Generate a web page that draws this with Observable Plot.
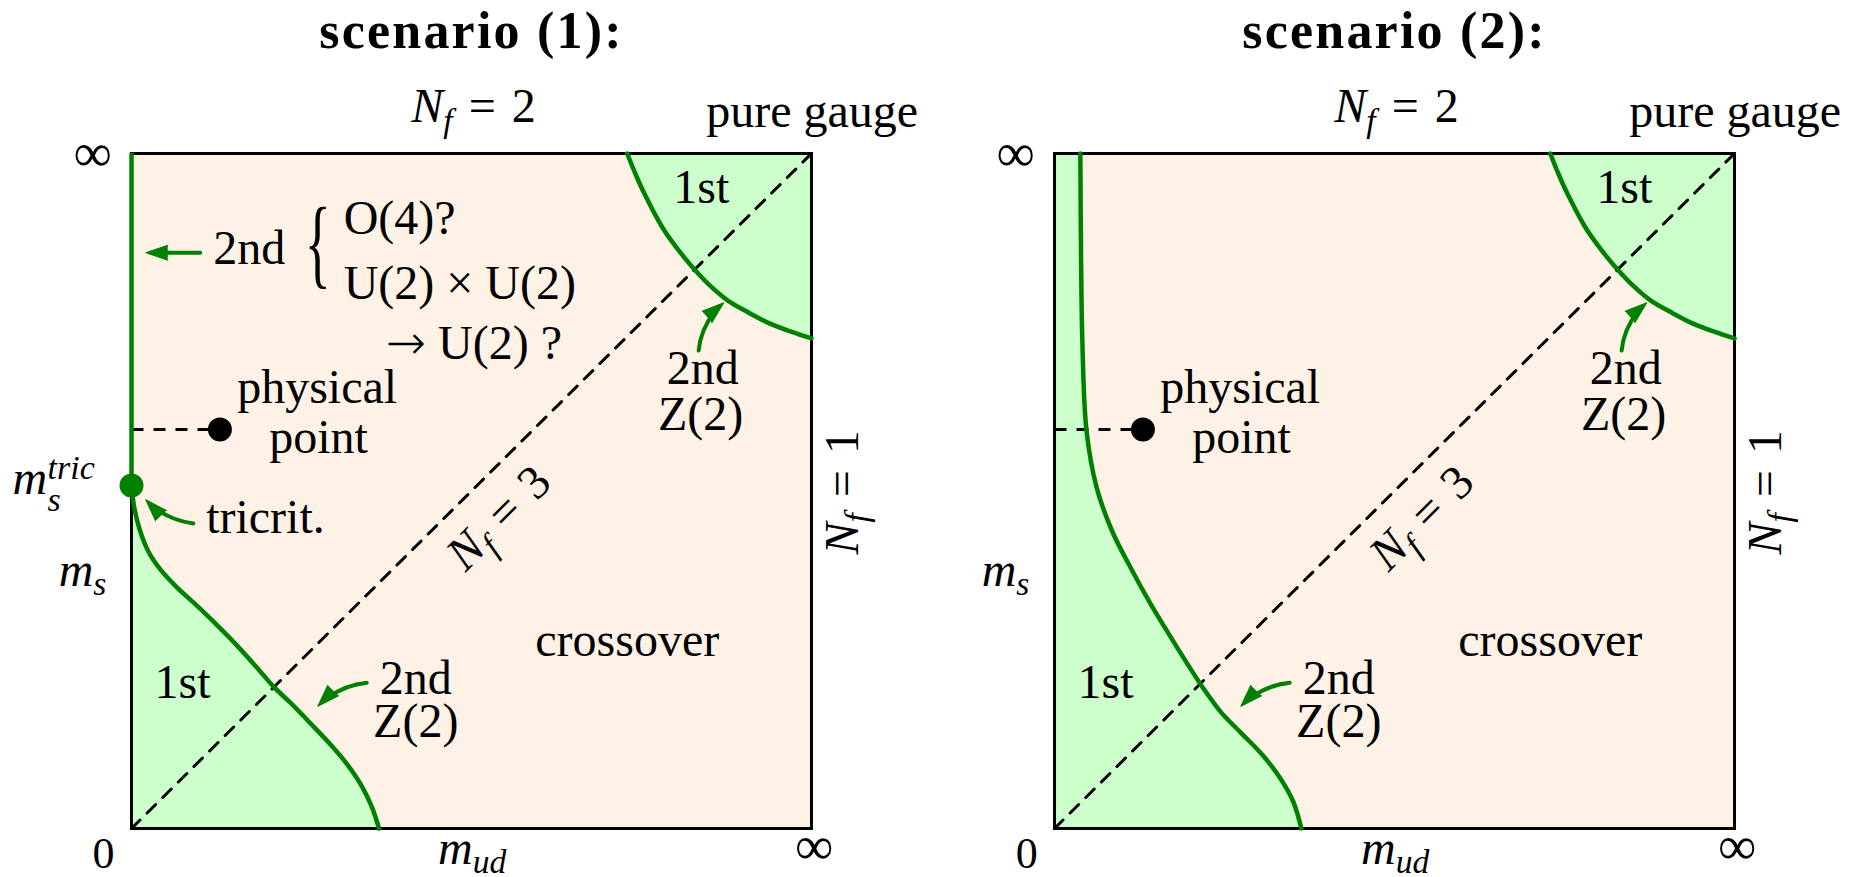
<!DOCTYPE html>
<html><head><meta charset="utf-8">
<script src="https://cdn.jsdelivr.net/npm/d3@7"></script>
<script src="https://cdn.jsdelivr.net/npm/@observablehq/plot@0.6"></script>
<style>
html,body{margin:0;padding:0;background:#fff;}
#chart{position:absolute;left:0;top:0;}
</style></head><body><div id="chart"></div>
<script>
// ---------------- data (unit square: x = m_ud, y = m_s, 0 .. infinity) ----------------
const PANELS = ["scenario (1):", "scenario (2):"];

// 1st-order region near the pure-gauge corner (both scenarios)
const upperRightBoundary = [[0.729,1.0],[0.741,0.97],[0.754,0.941],[0.781,0.890],[0.805,0.856],[0.829,0.827],[0.852,0.803],[0.877,0.782],[0.908,0.764],[0.939,0.748],[0.97,0.736],[1.0,0.726]];
// chiral 1st-order region, scenario (1): ends at the tricritical point
const lowerBoundary1 = [[0,0.508],[0.004,0.476],[0.012,0.443],[0.025,0.41],[0.043,0.383],[0.066,0.358],[0.093,0.333],[0.125,0.302],[0.158,0.268],[0.19,0.232],[0.21,0.209],[0.234,0.186],[0.263,0.156],[0.293,0.124],[0.318,0.094],[0.338,0.064],[0.353,0.033],[0.364,0.0]];
// chiral 1st-order region, scenario (2): reaches m_s = infinity
const lowerBoundary2 = [[0.038,1.0],[0.039,0.85],[0.041,0.72],[0.047,0.59],[0.062,0.505],[0.085,0.44],[0.11,0.39],[0.14,0.335],[0.17,0.285],[0.196,0.243],[0.218,0.209],[0.245,0.172],[0.275,0.141],[0.304,0.111],[0.331,0.076],[0.351,0.04],[0.363,0.0]];
const nf3Line = [[0,0],[1,1]];
const physicalPoint = {x: 0.13, y: 0.591};
const tricritical = {x: 0, y: 0.508};

// annotation arrows (tail -> tip), bend in degrees
const arrowsShared = [
  {x1: 0.834, y1: 0.708, x2: 0.871, y2: 0.779, bend: 22},
  {x1: 0.346, y1: 0.216, x2: 0.274, y2: 0.181, bend: -20}
];
const arrowsLeft = [
  {x1: 0.101, y1: 0.853, x2: 0.021, y2: 0.853, bend: 0},
  {x1: 0.091, y1: 0.452, x2: 0.021, y2: 0.487, bend: 20}
];

// labels (x, y in the unit square; y = text baseline)
const sharedLabels = [
  {text: "*N*_{f}\u2004=\u20042", x: 0.503, y: 1.046},
  {text: "pure gauge", x: 1.001, y: 1.039},
  {text: "physical", x: 0.273, y: 0.630},
  {text: "point", x: 0.275, y: 0.556},
  {text: "crossover", x: 0.729, y: 0.256},
  {text: "1st", x: 0.075, y: 0.194},
  {text: "2nd", x: 0.418, y: 0.200},
  {text: "Z(2)", x: 0.418, y: 0.135},
  {text: "1st", x: 0.838, y: 0.926},
  {text: "2nd", x: 0.840, y: 0.659},
  {text: "Z(2)", x: 0.837, y: 0.590},
  {text: "*m*_{s}", x: -0.072, y: 0.360},
  {text: "*m*_{ud}", x: 0.501, y: -0.052}
];
const infinityLabels = [
  {text: "\u221E", x: -0.057, y: 0.974},
  {text: "\u221E", x: 1.004, y: -0.053}
];
const originLabel = [{text: "0", x: -0.041, y: -0.037}];
const verticalLabels = [{text: "*N*_{f}\u2004=\u20041", x: 1.069, y: 0.498}];
const diagonalLabels = [{text: "*N*_{f}\u2004=\u20043", x: 0.556, y: 0.444}];
const leftMiddleLabels = [
  {text: "2nd", x: 0.173, y: 0.836},
  {text: "tricrit.", x: 0.197, y: 0.4385}
];
const leftStartLabels = [
  {text: "O(4)?", x: 0.312, y: 0.881},
  {text: "U(2) \u00D7 U(2)", x: 0.312, y: 0.785},
  {text: "#{\u2192} U(2) ?", x: 0.374, y: 0.696},
  {text: "*m*", x: -0.175, y: 0.496}
];
const leftScripts = [
  {text: "tric", x: -0.1235, y: 0.5185},
  {text: "s", x: -0.1235, y: 0.471}
];
const braceLabel = [{text: "{", x: 0.274, y: 0.819}];
const titles = PANELS.map(p => ({panel: p, x: 0.5, y: 1.157}));

// ---------------- chart ----------------
const GREEN = "#008000", LIGHTGREEN = "#ccffcc", PEACH = "#fef2e7";
const SERIF = "'Liberation Serif','DejaVu Serif',serif";
const P1 = () => PANELS[0], P2 = () => PANELS[1];
const pts = a => a.map(([x, y]) => ({x, y}));
const headOf = a => {
  const chord = Math.atan2(-(a.y2 - a.y1) * 675, (a.x2 - a.x1) * 680) * 180 / Math.PI;
  return {...a, rot: chord + a.bend + 90};
};
const dashed = {stroke: "black", strokeWidth: 3, strokeDasharray: "12,10"};
const greenLine = {stroke: GREEN, strokeWidth: 4.5, curve: "catmull-rom"};
const arrowMarks = (list, fx) => list.map(a => Plot.arrow([a], {
  x1: "x1", y1: "y1", x2: "x2", y2: "y2", bend: a.bend, headLength: 0, insetEnd: 14,
  stroke: GREEN, strokeWidth: 4, ...(fx ? {fx} : {})
}));
const headMark = (list, fx) => Plot.vector(list.map(headOf), {
  x: "x2", y: "y2", rotate: "rot", length: 22, r: 7.5, shape: "spike", anchor: "end",
  fill: GREEN, stroke: GREEN, strokeWidth: 1, ...(fx ? {fx} : {})
});
const txt = {text: "text", x: "x", y: "y", fontFamily: SERIF, fontSize: 48, fill: "black", lineAnchor: "bottom"};

const chart = Plot.plot({
  width: 1863, height: 877,
  marginLeft: 131, marginRight: 129, marginTop: 153, marginBottom: 49,
  fx: {domain: PANELS, paddingInner: 0.2633, paddingOuter: 0, round: false, axis: null},
  x: {domain: [0, 1], axis: null},
  y: {domain: [0, 1], axis: null},
  style: {fontFamily: SERIF, background: "white", overflow: "visible"},
  marks: [
    Plot.frame({fill: PEACH, stroke: "none"}),
    Plot.areaY(pts(upperRightBoundary), {x: "x", y1: "y", y2: 1, curve: "catmull-rom", fill: LIGHTGREEN}),
    Plot.areaX(pts(lowerBoundary1), {y: "y", x1: 0, x2: "x", curve: "catmull-rom", fill: LIGHTGREEN, fx: P1}),
    Plot.areaX(pts(lowerBoundary2), {y: "y", x1: 0, x2: "x", curve: "catmull-rom", fill: LIGHTGREEN, fx: P2}),
    Plot.frame({stroke: "black", strokeWidth: 3}),
    Plot.line(pts(nf3Line), {x: "x", y: "y", ...dashed}),
    Plot.link([physicalPoint], {x1: 0, x2: "x", y1: "y", y2: "y", ...dashed}),
    Plot.ruleX([tricritical], {x: "x", y1: "y", y2: 1, stroke: GREEN, strokeWidth: 4.5, fx: P1}),
    Plot.line(pts(upperRightBoundary), {x: "x", y: "y", ...greenLine}),
    Plot.line(pts(lowerBoundary1), {x: "x", y: "y", ...greenLine, fx: P1}),
    Plot.line(pts(lowerBoundary2), {x: "x", y: "y", ...greenLine, fx: P2}),
    ...arrowMarks(arrowsShared),
    ...arrowMarks(arrowsLeft, P1),
    headMark(arrowsShared),
    headMark(arrowsLeft, P1),
    Plot.dot([physicalPoint], {x: "x", y: "y", r: 12, fill: "black"}),
    Plot.dot([tricritical], {x: "x", y: "y", r: 12, fill: GREEN, fx: P1}),
    Plot.text(sharedLabels, {...txt}),
    Plot.text(infinityLabels, {...txt, fontSize: 54}),
    Plot.text(originLabel, {...txt, lineAnchor: "middle", fontSize: 44}),
    Plot.text(verticalLabels, {...txt, rotate: -90}),
    Plot.text(diagonalLabels, {...txt, rotate: -45}),
    Plot.text(leftMiddleLabels, {...txt, fx: P1}),
    Plot.text(leftStartLabels, {...txt, textAnchor: "start", fx: P1}),
    Plot.text(leftScripts, {...txt, textAnchor: "start", fontSize: 34, fontStyle: "italic", fx: P1}),
    Plot.text(braceLabel, {...txt, fontSize: 100, fx: P1}),
    Plot.text(titles, {text: "panel", x: "x", y: "y", fx: "panel", fontFamily: SERIF, fontSize: 52, fontWeight: "bold", lineAnchor: "bottom", fill: "black"})
  ]
});
document.getElementById("chart").appendChild(chart);

// ---------------- light math markup: *italic*, _{sub}, ^{sup}, #{symbol} ----------------
const NS = "http://www.w3.org/2000/svg";
chart.querySelectorAll("text").forEach(t => {
  const s = t.textContent;
  if (s === "{") { t.setAttribute("textLength", 26); t.setAttribute("lengthAdjust", "spacingAndGlyphs"); return; }
  if (PANELS.includes(s)) { t.setAttribute("letter-spacing", "2.2"); return; }
  if (!/\*|_\{|\^\{|#\{/.test(s)) return;
  let fs = 48;
  for (let n = t; n && n.getAttribute; n = n.parentNode) { const v = n.getAttribute("font-size"); if (v) { fs = parseFloat(v); break; } }
  t.textContent = "";
  const re = /\*([^*]+)\*|_\{([^}]+)\}|\^\{([^}]+)\}|#\{([^}]+)\}|([^*_^#]+)/g;
  let m, shift = 0;
  while ((m = re.exec(s))) {
    const ts = document.createElementNS(NS, "tspan");
    let target = 0, str;
    if (m[1]) { str = m[1]; ts.setAttribute("font-style", "italic"); }
    else if (m[2]) { str = m[2]; target = 0.2 * fs; ts.setAttribute("font-style", "italic"); ts.setAttribute("font-size", 0.7 * fs); }
    else if (m[3]) { str = m[3]; target = -0.4 * fs; ts.setAttribute("font-style", "italic"); ts.setAttribute("font-size", 0.7 * fs); }
    else if (m[4]) { str = m[4]; ts.setAttribute("font-family", "'DejaVu Sans'"); ts.setAttribute("font-weight", "200"); }
    else str = m[5];
    if (target !== shift) ts.setAttribute("dy", target - shift);
    shift = target;
    ts.textContent = str;
    t.appendChild(ts);
  }
});
</script></body></html>
